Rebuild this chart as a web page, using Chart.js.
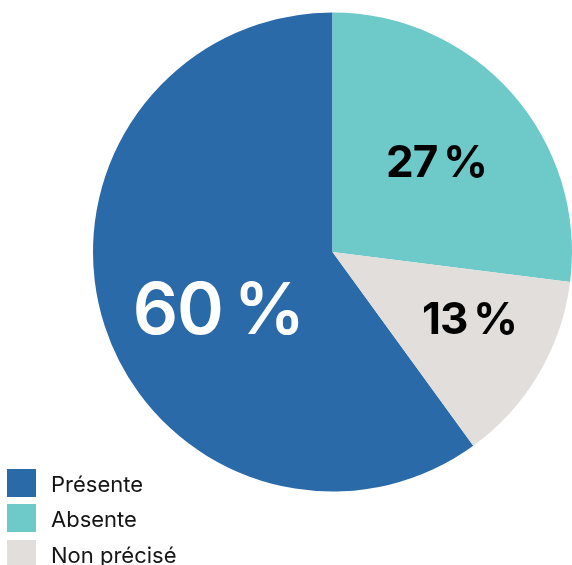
<!DOCTYPE html>
<html lang="fr">
<head>
<meta charset="utf-8">
<script src="https://cdn.jsdelivr.net/npm/chart.js@4/dist/chart.umd.min.js"></script>
<style>
    html, body { margin: 0; padding: 0; background: #fff; }
    #wrap { position: relative; width: 572px; height: 565px; overflow: hidden; }
    #pieChart { position: absolute; left: 0; top: 0; }
    #legend { position: absolute; left: 7px; top: 465px; font-family: Inter, "Liberation Sans", sans-serif; font-size: 22px; color: #151515; }
    .item { display: flex; align-items: center; height: 35.5px; line-height: 22px; }
    .box { width: 29px; height: 28px; margin-right: 15px; flex: none; }
    .txt { position: relative; top: 1px; }
</style>
</head>
<body>
<div id="wrap">
    <canvas id="pieChart" width="572" height="565"></canvas>
    <div id="legend"></div>
</div>
<script>
const categories = ['Présente', 'Absente', 'Non précisé'];
const values = [60, 27, 13];
const colors = ['#2B6AA8', '#6EC9C9', '#E2DEDC'];

// label look and placement per slice (fraction of radius, angle nudge in degrees)
const labelColors = ['#ffffff', '#000000', '#000000'];
const labelFonts = ['600 71px Inter, sans-serif', '700 44px Inter, sans-serif', '700 44px Inter, sans-serif'];
const labelRadius = [0.54, 0.57, 0.64];
const labelNudge = [-10, 1, -4];

const pctLabels = {
    id: 'pctLabels',
    afterDatasetsDraw(chart) {
        const ctx = chart.ctx;
        const meta = chart.getDatasetMeta(0);
        meta.data.forEach((arc, i) => {
            const p = arc.getProps(['x', 'y', 'startAngle', 'endAngle', 'outerRadius'], true);
            const mid = (p.startAngle + p.endAngle) / 2 + labelNudge[i] * Math.PI / 180;
            const r = p.outerRadius * labelRadius[i];
            ctx.save();
            ctx.font = labelFonts[i];
            ctx.fillStyle = labelColors[i];
            ctx.textAlign = 'center';
            ctx.textBaseline = 'middle';
            ctx.letterSpacing = '-1px';
            ctx.fillText(values[i] + '\u2009%', p.x + Math.cos(mid) * r, p.y + Math.sin(mid) * r);
            ctx.restore();
        });
    }
};

new Chart(document.getElementById('pieChart').getContext('2d'), {
    type: 'pie',
    data: {
        labels: categories,
        datasets: [{
            data: values,
            backgroundColor: colors,
            borderWidth: 0
        }]
    },
    options: {
        responsive: false,
        animation: false,
        rotation: 144,
        layout: { padding: { left: 93, top: 12, right: 0, bottom: 73 } },
        plugins: { legend: { display: false }, tooltip: { enabled: false } }
    },
    plugins: [pctLabels]
});

// legend built from the same arrays
const legend = document.getElementById('legend');
categories.forEach((name, i) => {
    const row = document.createElement('div');
    row.className = 'item';
    const box = document.createElement('span');
    box.className = 'box';
    box.style.background = colors[i];
    const txt = document.createElement('span');
    txt.className = 'txt';
    txt.textContent = name;
    row.appendChild(box);
    row.appendChild(txt);
    legend.appendChild(row);
});
</script>
</body>
</html>
